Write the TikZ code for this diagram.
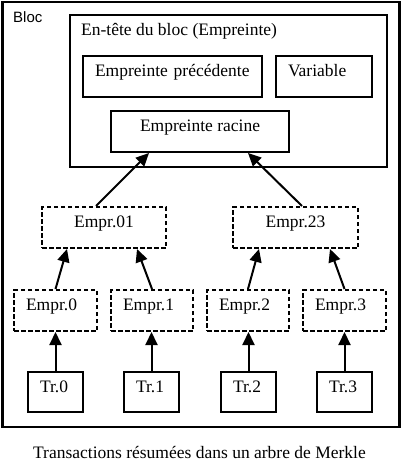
\documentclass[tikz,border=0pt]{standalone}
\usepackage{fontspec}
\setmainfont{Liberation Serif}
\newfontfamily\arialfont{Liberation Sans}
\usetikzlibrary{arrows.meta}
\begin{document}
\begin{tikzpicture}[x=1pt,y=-1pt,
  every node/.style={font=\fontsize{17.5}{20}\selectfont},
  boxbase/.style={line width=2pt, inner ysep=0pt, minimum height=41pt, text height=8pt, text depth=8pt},
  solidbox/.style={boxbase, draw},
  dashbox/.style={boxbase, draw, dash pattern=on 4.5pt off 2.5pt},
  lefttext/.style={inner xsep=12pt, text width=#1, align=left},
  ctrtext/.style={inner xsep=0pt, minimum width=#1, align=center},
  arr/.style={line width=2pt, -{Triangle[length=13pt,width=12pt]}}
]
\useasboundingbox (0,0) rectangle (400,462);
% outer block
\node[draw, line width=2.5pt, minimum width=397pt, minimum height=424.5pt, inner sep=0pt, anchor=north west] (bloc) at (1,1) {};
\node[font=\arialfont\fontsize{15}{18}\selectfont, anchor=base west, inner sep=0pt] (bloclbl) at (13,23) {Bloc};
% header box
\node[draw, line width=2pt, minimum width=317pt, minimum height=152pt, inner sep=0pt, anchor=north west] (hdr) at (69,14) {};
\node[anchor=base west, inner sep=0pt] (hdrlbl) at (81,36) {En-tête du bloc (Empreinte)};
\node[solidbox, lefttext=155pt] (prev) at (172.5,76.5) {Empreinte précédente};
\node[solidbox, lefttext=72pt] (var) at (324,76.5) {Variable};
\node[solidbox, ctrtext=178pt] (root) at (200,131.5) {Empreinte racine};
% intermediate hashes
\node[dashbox, ctrtext=124pt] (e01) at (104,227.5) {Empr.01};
\node[dashbox, ctrtext=125pt] (e23) at (295.5,227.5) {Empr.23};
\node[dashbox, lefttext=59pt] (e0) at (55.5,310.5) {Empr.0};
\node[dashbox, lefttext=58pt] (e1) at (152,310.5) {Empr.1};
\node[dashbox, lefttext=58pt] (e2) at (248,310.5) {Empr.2};
\node[dashbox, lefttext=59pt] (e3) at (344.5,310.5) {Empr.3};
% transactions
\node[solidbox, minimum height=40pt, lefttext=31pt] (t0) at (55.5,392) {Tr.0};
\node[solidbox, minimum height=40pt, lefttext=31pt] (t1) at (151.5,392) {Tr.1};
\node[solidbox, minimum height=40pt, lefttext=31pt] (t2) at (248.5,392) {Tr.2};
\node[solidbox, minimum height=40pt, lefttext=31pt] (t3) at (344.5,392) {Tr.3};
% arrows
\draw[arr] (t0.north) -- (t0.north |- e0.south);
\draw[arr] (t1.north) -- (t1.north |- e1.south);
\draw[arr] (t2.north) -- (t2.north |- e2.south);
\draw[arr] (t3.north) -- (t3.north |- e3.south);
\draw[arr] (e0.north) -- ([xshift=26pt]e01.south west);
\draw[arr] (e1.north) -- ([xshift=96pt]e01.south west);
\draw[arr] (e2.north) -- ([xshift=27pt]e23.south west);
\draw[arr] (e3.north) -- ([xshift=98pt]e23.south west);
\draw[arr] ([xshift=55pt]e01.north west) -- ([xshift=39pt]root.south west);
\draw[arr] ([xshift=70pt]e23.north west) -- ([xshift=138pt]root.south west);
% caption
\node[anchor=base, inner sep=0pt] (cap) at (199.5,458) {Transactions résumées dans un arbre de Merkle};
\end{tikzpicture}
\end{document}
